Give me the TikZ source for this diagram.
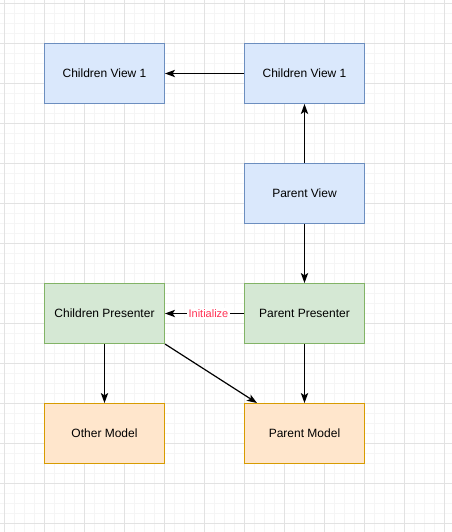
\documentclass[tikz,border=0pt]{standalone}
\usepackage{fontspec}
\setmainfont{Liberation Sans}
\usetikzlibrary{arrows.meta,calc}
\definecolor{bluefill}{HTML}{DAE8FC}
\definecolor{bluedraw}{HTML}{6C8EBF}
\definecolor{greenfill}{HTML}{D5E8D4}
\definecolor{greendraw}{HTML}{82B366}
\definecolor{orangefill}{HTML}{FFE6CC}
\definecolor{orangedraw}{HTML}{D79B00}
\definecolor{gridmajor}{HTML}{E2E2E2}
\definecolor{gridminor}{HTML}{F5F5F5}
\definecolor{labelred}{HTML}{FF3355}
\tikzset{
  box/.style={rectangle, minimum width=120*0.75pt, minimum height=60*0.75pt, inner sep=0pt, line width=0.75pt, font=\fontsize{9pt}{11pt}\selectfont, anchor=north west},
  bluebox/.style={box, fill=bluefill, draw=bluedraw},
  greenbox/.style={box, fill=greenfill, draw=greendraw},
  orangebox/.style={box, fill=orangefill, draw=orangedraw},
  conn/.style={line width=0.9pt, -{Stealth[length=7.5pt,width=5.5pt,inset=1.8pt]}},
  lbl/.style={fill=white, text=labelred, inner sep=1pt, font=\fontsize{8.25pt}{10pt}\selectfont}
}
\begin{document}
\begin{tikzpicture}[x=0.75pt,y=-0.75pt]
\useasboundingbox (0,0) rectangle (452,532);
\fill[white] (0,0) rectangle (452,532);
% minor grid
\foreach \i in {0,...,45} {\draw[gridminor,line width=0.75pt] (4+\i*10,0) -- (4+\i*10,532);}
\foreach \j in {0,...,53} {\draw[gridminor,line width=0.75pt] (0,3+\j*10) -- (452,3+\j*10);}
% major grid
\foreach \i in {0,...,11} {\draw[gridmajor,line width=0.75pt] (4+\i*40,0) -- (4+\i*40,532);}
\foreach \j in {0,...,13} {\draw[gridmajor,line width=0.75pt] (0,3+\j*40) -- (452,3+\j*40);}
% nodes
\node[bluebox] (cvl) at (44,43) {Children View 1};
\node[bluebox] (cvr) at (244,43) {Children View 1};
\node[bluebox] (pv) at (244,163) {Parent View};
\node[greenbox] (cp) at (44,283) {Children Presenter};
\node[greenbox] (pp) at (244,283) {Parent Presenter};
\node[orangebox] (om) at (44,403) {Other Model};
\node[orangebox] (pm) at (244,403) {Parent Model};
\coordinate (pmin) at ($(pm.north west)+(13,0)$);
% connectors
\draw[conn] (cvr.west) -- (cvl.east);
\draw[conn] (pv.north) -- (cvr.south);
\draw[conn] (pv.south) -- (pp.north);
\draw[conn] (pp.west) -- node[lbl,pos=0.45] {Initialize} (cp.east);
\draw[conn] (cp.south) -- (om.north);
\draw[conn] (cp.south east) -- (pmin);
\draw[conn] (pp.south) -- (pm.north);
\end{tikzpicture}
\end{document}
